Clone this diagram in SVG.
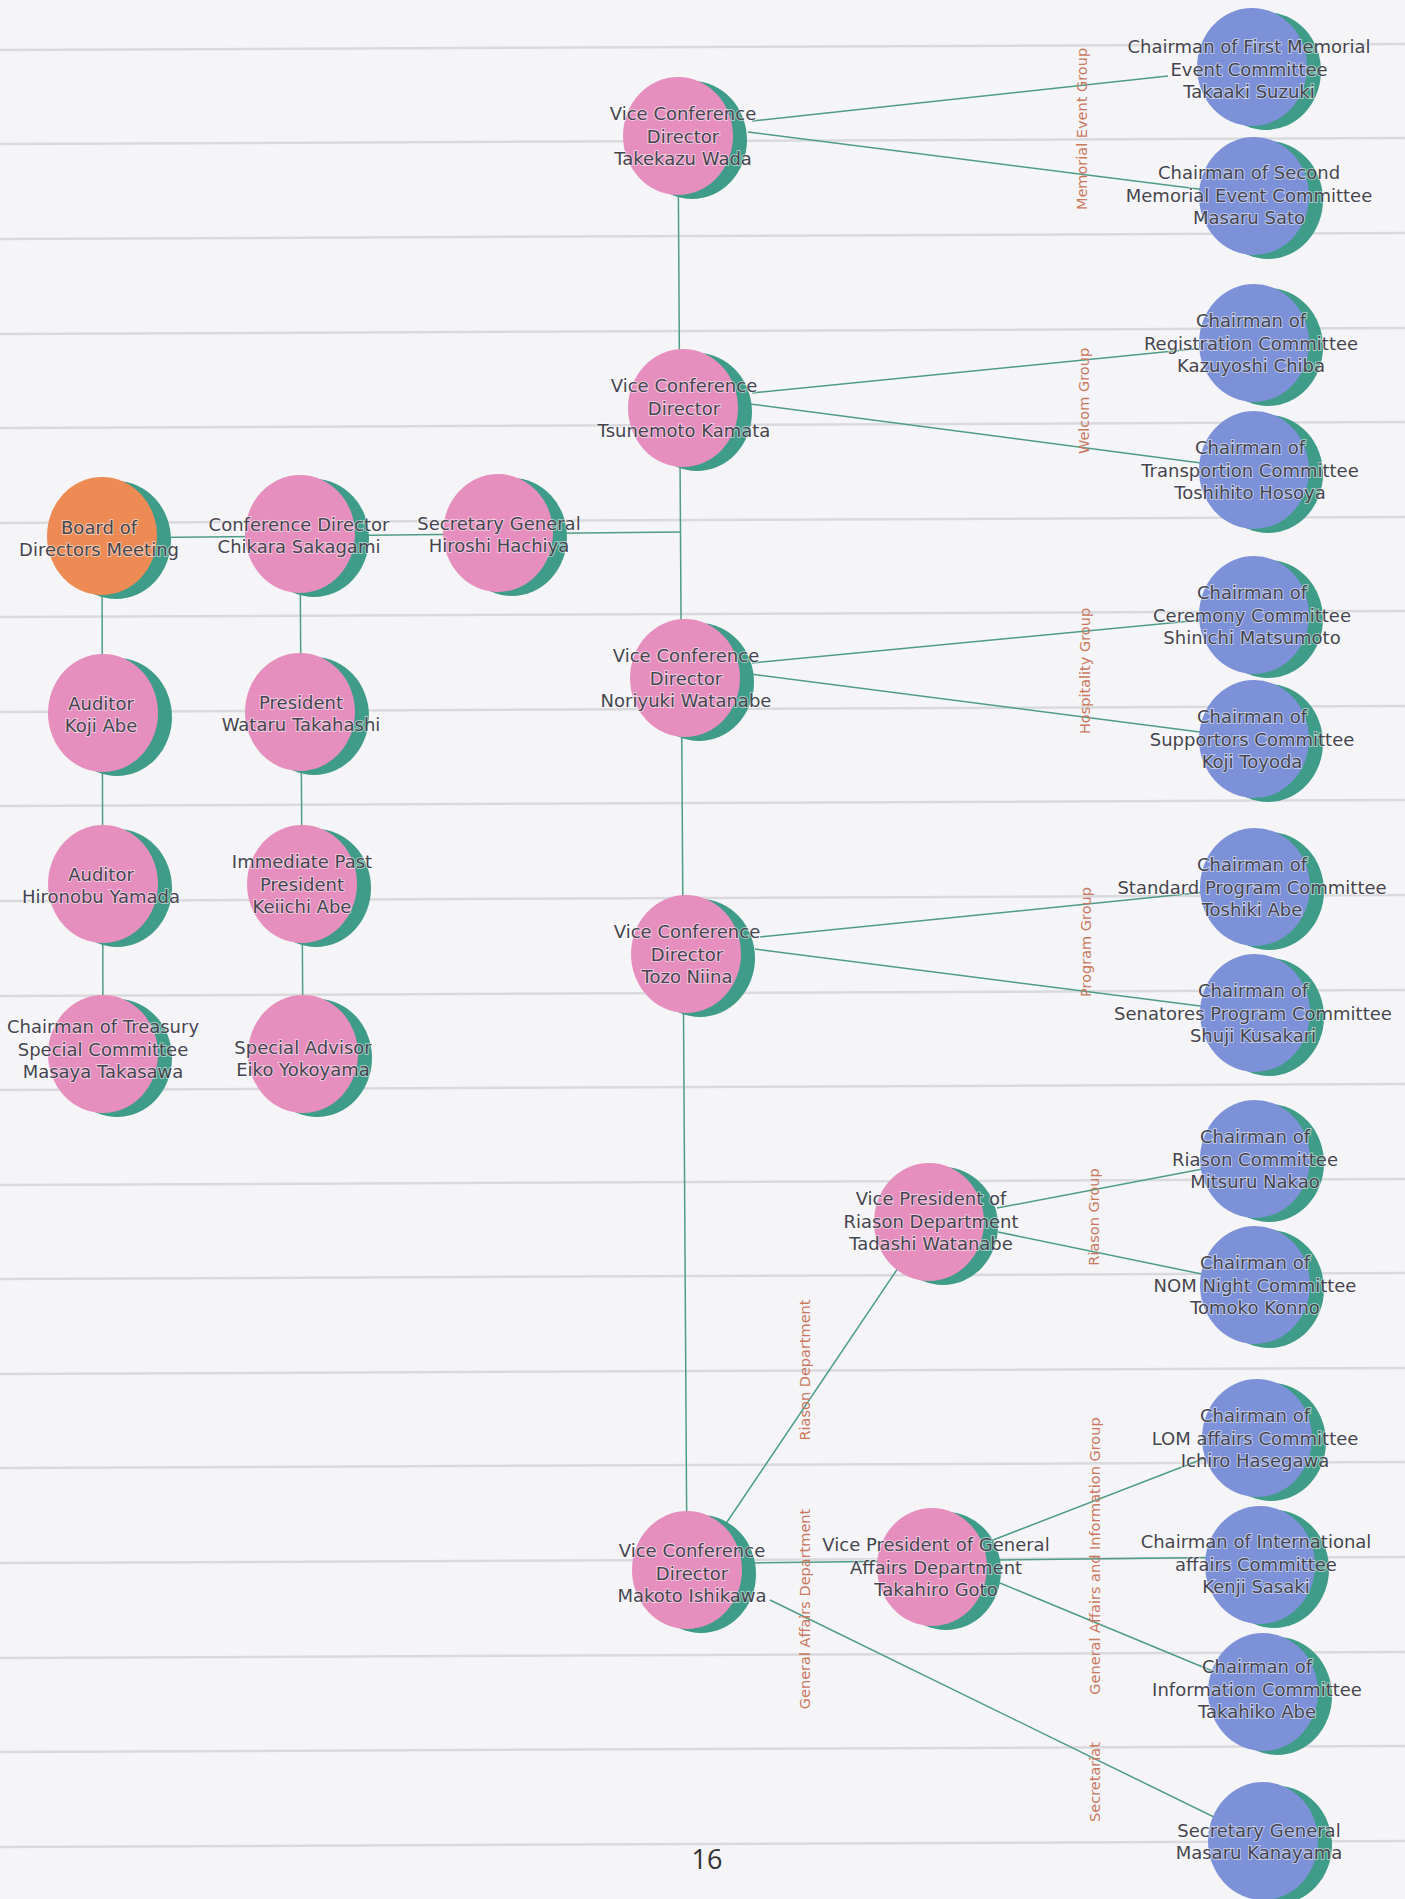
<svg xmlns="http://www.w3.org/2000/svg" width="1405" height="1899" viewBox="0 0 1405 1899">
<style>
.rule{stroke:#dadade;stroke-width:2.5}
.conn{stroke:#4f9c86;stroke-width:1.5;fill:none}
.sh{fill:#3f9c88}
.pk{fill:#e68fbe}
.bl{fill:#7d91d8}
.or{fill:#ee8b55}
.t{font-family:"DejaVu Sans",sans-serif;font-size:18px;fill:#45454f;text-anchor:middle;stroke:#ffffff;stroke-width:2;stroke-opacity:0.5;paint-order:stroke}
.g{font-family:"DejaVu Sans",sans-serif;font-size:14.5px;fill:#c9785e;text-anchor:middle}
.pg{font-family:"Open Sans","Liberation Sans",sans-serif;font-size:27px;fill:#333333;text-anchor:middle}
</style>
<defs>
<ellipse id="shadow" rx="55" ry="59" cx="14" cy="4"/>
<ellipse id="disc" rx="55" ry="59" cx="0" cy="0"/>
</defs>
<rect x="0" y="0" width="1405" height="1899" fill="#f5f4f7"/>
<g id="rules">
<line class="rule" x1="0" y1="50" x2="1405" y2="44"/>
<line class="rule" x1="0" y1="144" x2="1405" y2="138"/>
<line class="rule" x1="0" y1="239" x2="1405" y2="233"/>
<line class="rule" x1="0" y1="334" x2="1405" y2="328"/>
<line class="rule" x1="0" y1="428" x2="1405" y2="422"/>
<line class="rule" x1="0" y1="523" x2="1405" y2="517"/>
<line class="rule" x1="0" y1="617" x2="1405" y2="611"/>
<line class="rule" x1="0" y1="712" x2="1405" y2="706"/>
<line class="rule" x1="0" y1="806" x2="1405" y2="800"/>
<line class="rule" x1="0" y1="901" x2="1405" y2="895"/>
<line class="rule" x1="0" y1="996" x2="1405" y2="990"/>
<line class="rule" x1="0" y1="1090" x2="1405" y2="1084"/>
<line class="rule" x1="0" y1="1185" x2="1405" y2="1179"/>
<line class="rule" x1="0" y1="1279" x2="1405" y2="1273"/>
<line class="rule" x1="0" y1="1374" x2="1405" y2="1368"/>
<line class="rule" x1="0" y1="1468" x2="1405" y2="1462"/>
<line class="rule" x1="0" y1="1563" x2="1405" y2="1557"/>
<line class="rule" x1="0" y1="1658" x2="1405" y2="1652"/>
<line class="rule" x1="0" y1="1752" x2="1405" y2="1746"/>
<line class="rule" x1="0" y1="1847" x2="1405" y2="1841"/>
</g>
<g id="connectors">
<line class="conn" x1="678" y1="136" x2="687" y2="1570"/>
<line class="conn" x1="102" y1="538" x2="680" y2="532"/>
<line class="conn" x1="102" y1="536" x2="103" y2="1054"/>
<line class="conn" x1="300" y1="534" x2="303" y2="1054"/>
<line class="conn" x1="752" y1="121" x2="1168" y2="76"/>
<line class="conn" x1="748" y1="132" x2="1254" y2="196"/>
<line class="conn" x1="752" y1="393" x2="1254" y2="343"/>
<line class="conn" x1="750" y1="404" x2="1254" y2="470"/>
<line class="conn" x1="752" y1="663" x2="1254" y2="615"/>
<line class="conn" x1="750" y1="674" x2="1254" y2="739"/>
<line class="conn" x1="760" y1="937" x2="1255" y2="887"/>
<line class="conn" x1="755" y1="949" x2="1255" y2="1013"/>
<line class="conn" x1="997" y1="1208" x2="1255" y2="1159"/>
<line class="conn" x1="998" y1="1232" x2="1255" y2="1285"/>
<line class="conn" x1="725" y1="1525" x2="929" y2="1222"/>
<line class="conn" x1="745" y1="1563" x2="1260" y2="1557"/>
<line class="conn" x1="993" y1="1540" x2="1257" y2="1438"/>
<line class="conn" x1="1000" y1="1583" x2="1263" y2="1692"/>
<line class="conn" x1="770" y1="1600" x2="1263" y2="1841"/>
</g>
<g id="group-labels">
<text class="g" transform="translate(1087,129) rotate(-90)">Memorial Event Group</text>
<text class="g" transform="translate(1089,401) rotate(-90)">Welcom Group</text>
<text class="g" transform="translate(1090,671) rotate(-90)">Hospitality Group</text>
<text class="g" transform="translate(1091,942) rotate(-90)">Program Group</text>
<text class="g" transform="translate(1099,1217) rotate(-90)">Riason Group</text>
<text class="g" transform="translate(810,1370) rotate(-90)">Riason Department</text>
<text class="g" transform="translate(810,1609) rotate(-90)">General Affairs Department</text>
<text class="g" transform="translate(1100,1556) rotate(-90)">General Affairs and Information Group</text>
<text class="g" transform="translate(1100,1782) rotate(-90)">Secretariat</text>
</g>
<g id="n-wada" transform="translate(678,136)"><use href="#shadow" class="sh"/><use href="#disc" class="pk"/>
<text class="t" y="-16"><tspan x="5">Vice Conference</tspan><tspan x="5" dy="22.5">Director</tspan><tspan x="5" dy="22.5">Takekazu Wada</tspan></text></g>
<g id="n-kamata" transform="translate(683,408)"><use href="#shadow" class="sh"/><use href="#disc" class="pk"/>
<text class="t" y="-16"><tspan x="1">Vice Conference</tspan><tspan x="1" dy="22.5">Director</tspan><tspan x="1" dy="22.5">Tsunemoto Kamata</tspan></text></g>
<g id="n-noriyuki" transform="translate(685,678)"><use href="#shadow" class="sh"/><use href="#disc" class="pk"/>
<text class="t" y="-16"><tspan x="1">Vice Conference</tspan><tspan x="1" dy="22.5">Director</tspan><tspan x="1" dy="22.5">Noriyuki Watanabe</tspan></text></g>
<g id="n-niina" transform="translate(686,954)"><use href="#shadow" class="sh"/><use href="#disc" class="pk"/>
<text class="t" y="-16"><tspan x="1">Vice Conference</tspan><tspan x="1" dy="22.5">Director</tspan><tspan x="1" dy="22.5">Tozo Niina</tspan></text></g>
<g id="n-ishikawa" transform="translate(687,1570)"><use href="#shadow" class="sh"/><use href="#disc" class="pk"/>
<text class="t" y="-13"><tspan x="5">Vice Conference</tspan><tspan x="5" dy="22.5">Director</tspan><tspan x="5" dy="22.5">Makoto Ishikawa</tspan></text></g>
<g id="n-board" transform="translate(102,536)"><use href="#shadow" class="sh"/><use href="#disc" class="or"/>
<text class="t" y="-2"><tspan x="-3">Board of</tspan><tspan x="-3" dy="21.5">Directors Meeting</tspan></text></g>
<g id="n-sakagami" transform="translate(300,534)"><use href="#shadow" class="sh"/><use href="#disc" class="pk"/>
<text class="t" y="-3"><tspan x="-1">Conference Director</tspan><tspan x="-1" dy="21.5">Chikara Sakagami</tspan></text></g>
<g id="n-hachiya" transform="translate(498,533)"><use href="#shadow" class="sh"/><use href="#disc" class="pk"/>
<text class="t" y="-3"><tspan x="1">Secretary General</tspan><tspan x="1" dy="21.5">Hiroshi Hachiya</tspan></text></g>
<g id="n-kojiabe" transform="translate(103,713)"><use href="#shadow" class="sh"/><use href="#disc" class="pk"/>
<text class="t" y="-3"><tspan x="-2">Auditor</tspan><tspan x="-2" dy="21.5">Koji Abe</tspan></text></g>
<g id="n-takahashi" transform="translate(300,712)"><use href="#shadow" class="sh"/><use href="#disc" class="pk"/>
<text class="t" y="-3"><tspan x="1">President</tspan><tspan x="1" dy="21.5">Wataru Takahashi</tspan></text></g>
<g id="n-yamada" transform="translate(103,884)"><use href="#shadow" class="sh"/><use href="#disc" class="pk"/>
<text class="t" y="-3"><tspan x="-2">Auditor</tspan><tspan x="-2" dy="21.5">Hironobu Yamada</tspan></text></g>
<g id="n-keiichi" transform="translate(302,884)"><use href="#shadow" class="sh"/><use href="#disc" class="pk"/>
<text class="t" y="-16"><tspan x="0">Immediate Past</tspan><tspan x="0" dy="22.5">President</tspan><tspan x="0" dy="22.5">Keiichi Abe</tspan></text></g>
<g id="n-takasawa" transform="translate(103,1054)"><use href="#shadow" class="sh"/><use href="#disc" class="pk"/>
<text class="t" y="-21"><tspan x="0">Chairman of Treasury</tspan><tspan x="0" dy="22.5">Special Committee</tspan><tspan x="0" dy="22.5">Masaya Takasawa</tspan></text></g>
<g id="n-yokoyama" transform="translate(303,1054)"><use href="#shadow" class="sh"/><use href="#disc" class="pk"/>
<text class="t" y="0"><tspan x="0">Special Advisor</tspan><tspan x="0" dy="21.5">Eiko Yokoyama</tspan></text></g>
<g id="n-tadashi" transform="translate(929,1222)"><use href="#shadow" class="sh"/><use href="#disc" class="pk"/>
<text class="t" y="-17"><tspan x="2">Vice President of</tspan><tspan x="2" dy="22.5">Riason Department</tspan><tspan x="2" dy="22.5">Tadashi Watanabe</tspan></text></g>
<g id="n-goto" transform="translate(932,1567)"><use href="#shadow" class="sh"/><use href="#disc" class="pk"/>
<text class="t" y="-16"><tspan x="4">Vice President of General</tspan><tspan x="4" dy="22.5">Affairs Department</tspan><tspan x="4" dy="22.5">Takahiro Goto</tspan></text></g>
<g id="n-first" transform="translate(1252,67)"><use href="#shadow" class="sh"/><use href="#disc" class="bl"/>
<text class="t" y="-14"><tspan x="-3">Chairman of First Memorial</tspan><tspan x="-3" dy="22.5">Event Committee</tspan><tspan x="-3" dy="22.5">Takaaki Suzuki</tspan></text></g>
<g id="n-second" transform="translate(1254,196)"><use href="#shadow" class="sh"/><use href="#disc" class="bl"/>
<text class="t" y="-17"><tspan x="-5">Chairman of Second</tspan><tspan x="-5" dy="22.5">Memorial Event Committee</tspan><tspan x="-5" dy="22.5">Masaru Sato</tspan></text></g>
<g id="n-registration" transform="translate(1254,343)"><use href="#shadow" class="sh"/><use href="#disc" class="bl"/>
<text class="t" y="-16"><tspan x="-3">Chairman of</tspan><tspan x="-3" dy="22.5">Registration Committee</tspan><tspan x="-3" dy="22.5">Kazuyoshi Chiba</tspan></text></g>
<g id="n-transportion" transform="translate(1254,470)"><use href="#shadow" class="sh"/><use href="#disc" class="bl"/>
<text class="t" y="-16"><tspan x="-4">Chairman of</tspan><tspan x="-4" dy="22.5">Transportion Committee</tspan><tspan x="-4" dy="22.5">Toshihito Hosoya</tspan></text></g>
<g id="n-ceremony" transform="translate(1254,615)"><use href="#shadow" class="sh"/><use href="#disc" class="bl"/>
<text class="t" y="-16"><tspan x="-2">Chairman of</tspan><tspan x="-2" dy="22.5">Ceremony Committee</tspan><tspan x="-2" dy="22.5">Shinichi Matsumoto</tspan></text></g>
<g id="n-supportors" transform="translate(1254,739)"><use href="#shadow" class="sh"/><use href="#disc" class="bl"/>
<text class="t" y="-16"><tspan x="-2">Chairman of</tspan><tspan x="-2" dy="22.5">Supportors Committee</tspan><tspan x="-2" dy="22.5">Koji Toyoda</tspan></text></g>
<g id="n-standard" transform="translate(1255,887)"><use href="#shadow" class="sh"/><use href="#disc" class="bl"/>
<text class="t" y="-16"><tspan x="-3">Chairman of</tspan><tspan x="-3" dy="22.5">Standard Program Committee</tspan><tspan x="-3" dy="22.5">Toshiki Abe</tspan></text></g>
<g id="n-senatores" transform="translate(1255,1013)"><use href="#shadow" class="sh"/><use href="#disc" class="bl"/>
<text class="t" y="-16"><tspan x="-2">Chairman of</tspan><tspan x="-2" dy="22.5">Senatores Program Committee</tspan><tspan x="-2" dy="22.5">Shuji Kusakari</tspan></text></g>
<g id="n-riasoncom" transform="translate(1255,1159)"><use href="#shadow" class="sh"/><use href="#disc" class="bl"/>
<text class="t" y="-16"><tspan x="0">Chairman of</tspan><tspan x="0" dy="22.5">Riason Committee</tspan><tspan x="0" dy="22.5">Mitsuru Nakao</tspan></text></g>
<g id="n-nom" transform="translate(1255,1285)"><use href="#shadow" class="sh"/><use href="#disc" class="bl"/>
<text class="t" y="-16"><tspan x="0">Chairman of</tspan><tspan x="0" dy="22.5">NOM Night Committee</tspan><tspan x="0" dy="22.5">Tomoko Konno</tspan></text></g>
<g id="n-lom" transform="translate(1257,1438)"><use href="#shadow" class="sh"/><use href="#disc" class="bl"/>
<text class="t" y="-16"><tspan x="-2">Chairman of</tspan><tspan x="-2" dy="22.5">LOM affairs Committee</tspan><tspan x="-2" dy="22.5">Ichiro Hasegawa</tspan></text></g>
<g id="n-international" transform="translate(1260,1565)"><use href="#shadow" class="sh"/><use href="#disc" class="bl"/>
<text class="t" y="-17"><tspan x="-4">Chairman of International</tspan><tspan x="-4" dy="22.5">affairs Committee</tspan><tspan x="-4" dy="22.5">Kenji Sasaki</tspan></text></g>
<g id="n-information" transform="translate(1263,1692)"><use href="#shadow" class="sh"/><use href="#disc" class="bl"/>
<text class="t" y="-19"><tspan x="-6">Chairman of</tspan><tspan x="-6" dy="22.5">Information Committee</tspan><tspan x="-6" dy="22.5">Takahiko Abe</tspan></text></g>
<g id="n-kanayama" transform="translate(1263,1841)"><use href="#shadow" class="sh"/><use href="#disc" class="bl"/>
<text class="t" y="-4"><tspan x="-4">Secretary General</tspan><tspan x="-4" dy="21.5">Masaru Kanayama</tspan></text></g>
<text class="pg" x="707" y="1869">16</text>
</svg>
